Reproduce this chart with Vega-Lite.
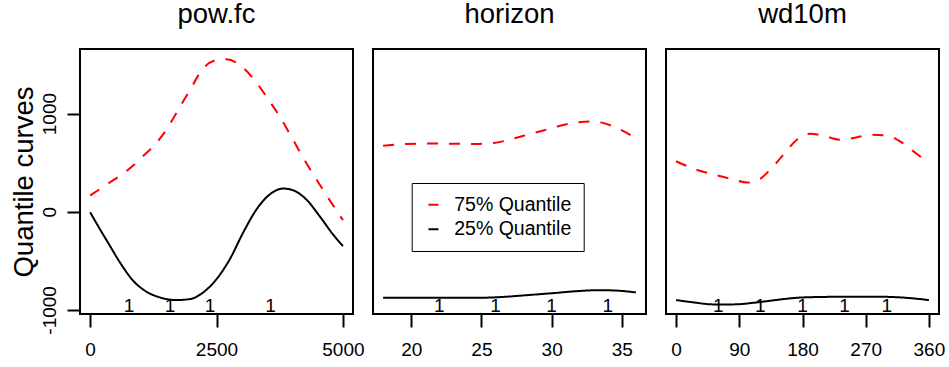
{
  "$schema": "https://vega.github.io/schema/vega-lite/v6.json",
  "autosize": {"type": "none"},
  "padding": {"left": 80, "top": 49, "right": 869, "bottom": 318},
  "background": "white",
  "spacing": 20,
  "bounds": "flush",
  "datasets": {
    "curves": [
      {"v": "pow.fc", "s": "75% Quantile", "x": 0, "y": 165},
      {"v": "pow.fc", "s": "75% Quantile", "x": 395, "y": 300},
      {"v": "pow.fc", "s": "75% Quantile", "x": 757, "y": 430},
      {"v": "pow.fc", "s": "75% Quantile", "x": 1053, "y": 570},
      {"v": "pow.fc", "s": "75% Quantile", "x": 1316, "y": 705},
      {"v": "pow.fc", "s": "75% Quantile", "x": 1514, "y": 840},
      {"v": "pow.fc", "s": "75% Quantile", "x": 1711, "y": 1010},
      {"v": "pow.fc", "s": "75% Quantile", "x": 1974, "y": 1240},
      {"v": "pow.fc", "s": "75% Quantile", "x": 2237, "y": 1460},
      {"v": "pow.fc", "s": "75% Quantile", "x": 2500, "y": 1545},
      {"v": "pow.fc", "s": "75% Quantile", "x": 2698, "y": 1553},
      {"v": "pow.fc", "s": "75% Quantile", "x": 2961, "y": 1495},
      {"v": "pow.fc", "s": "75% Quantile", "x": 3224, "y": 1360},
      {"v": "pow.fc", "s": "75% Quantile", "x": 3487, "y": 1173},
      {"v": "pow.fc", "s": "75% Quantile", "x": 3750, "y": 970},
      {"v": "pow.fc", "s": "75% Quantile", "x": 4013, "y": 734},
      {"v": "pow.fc", "s": "75% Quantile", "x": 4276, "y": 497},
      {"v": "pow.fc", "s": "75% Quantile", "x": 4540, "y": 277},
      {"v": "pow.fc", "s": "75% Quantile", "x": 4902, "y": -10},
      {"v": "pow.fc", "s": "75% Quantile", "x": 5000, "y": -85},
      {"v": "pow.fc", "s": "25% Quantile", "x": 0, "y": -5},
      {"v": "pow.fc", "s": "25% Quantile", "x": 197, "y": -180},
      {"v": "pow.fc", "s": "25% Quantile", "x": 395, "y": -350},
      {"v": "pow.fc", "s": "25% Quantile", "x": 592, "y": -518},
      {"v": "pow.fc", "s": "25% Quantile", "x": 855, "y": -705},
      {"v": "pow.fc", "s": "25% Quantile", "x": 1119, "y": -816},
      {"v": "pow.fc", "s": "25% Quantile", "x": 1382, "y": -873},
      {"v": "pow.fc", "s": "25% Quantile", "x": 1711, "y": -900},
      {"v": "pow.fc", "s": "25% Quantile", "x": 1974, "y": -890},
      {"v": "pow.fc", "s": "25% Quantile", "x": 2237, "y": -822},
      {"v": "pow.fc", "s": "25% Quantile", "x": 2500, "y": -687},
      {"v": "pow.fc", "s": "25% Quantile", "x": 2763, "y": -484},
      {"v": "pow.fc", "s": "25% Quantile", "x": 3027, "y": -213},
      {"v": "pow.fc", "s": "25% Quantile", "x": 3290, "y": 23},
      {"v": "pow.fc", "s": "25% Quantile", "x": 3553, "y": 176},
      {"v": "pow.fc", "s": "25% Quantile", "x": 3816, "y": 236},
      {"v": "pow.fc", "s": "25% Quantile", "x": 4013, "y": 219},
      {"v": "pow.fc", "s": "25% Quantile", "x": 4276, "y": 125},
      {"v": "pow.fc", "s": "25% Quantile", "x": 4540, "y": -45},
      {"v": "pow.fc", "s": "25% Quantile", "x": 4803, "y": -230},
      {"v": "pow.fc", "s": "25% Quantile", "x": 5000, "y": -349},
      {"v": "horizon", "s": "75% Quantile", "x": 18, "y": 673},
      {"v": "horizon", "s": "75% Quantile", "x": 19.69, "y": 690},
      {"v": "horizon", "s": "75% Quantile", "x": 21.35, "y": 696},
      {"v": "horizon", "s": "75% Quantile", "x": 23, "y": 693},
      {"v": "horizon", "s": "75% Quantile", "x": 24.44, "y": 690},
      {"v": "horizon", "s": "75% Quantile", "x": 25.86, "y": 700},
      {"v": "horizon", "s": "75% Quantile", "x": 26.82, "y": 727},
      {"v": "horizon", "s": "75% Quantile", "x": 28, "y": 774},
      {"v": "horizon", "s": "75% Quantile", "x": 29.42, "y": 828},
      {"v": "horizon", "s": "75% Quantile", "x": 30.61, "y": 876},
      {"v": "horizon", "s": "75% Quantile", "x": 31.8, "y": 909},
      {"v": "horizon", "s": "75% Quantile", "x": 32.75, "y": 920},
      {"v": "horizon", "s": "75% Quantile", "x": 33.7, "y": 903},
      {"v": "horizon", "s": "75% Quantile", "x": 34.65, "y": 852},
      {"v": "horizon", "s": "75% Quantile", "x": 35.83, "y": 761},
      {"v": "horizon", "s": "75% Quantile", "x": 36, "y": 745},
      {"v": "horizon", "s": "25% Quantile", "x": 18, "y": -877},
      {"v": "horizon", "s": "25% Quantile", "x": 21, "y": -877},
      {"v": "horizon", "s": "25% Quantile", "x": 24.7, "y": -877},
      {"v": "horizon", "s": "25% Quantile", "x": 26.3, "y": -870},
      {"v": "horizon", "s": "25% Quantile", "x": 28.24, "y": -850},
      {"v": "horizon", "s": "25% Quantile", "x": 30.14, "y": -829},
      {"v": "horizon", "s": "25% Quantile", "x": 31.8, "y": -809},
      {"v": "horizon", "s": "25% Quantile", "x": 33.46, "y": -799},
      {"v": "horizon", "s": "25% Quantile", "x": 34.89, "y": -806},
      {"v": "horizon", "s": "25% Quantile", "x": 36, "y": -822},
      {"v": "wd10m", "s": "75% Quantile", "x": 0, "y": 514},
      {"v": "wd10m", "s": "75% Quantile", "x": 24.7, "y": 439},
      {"v": "wd10m", "s": "75% Quantile", "x": 58, "y": 371},
      {"v": "wd10m", "s": "75% Quantile", "x": 82, "y": 328},
      {"v": "wd10m", "s": "75% Quantile", "x": 100.7, "y": 297},
      {"v": "wd10m", "s": "75% Quantile", "x": 119.7, "y": 335},
      {"v": "wd10m", "s": "75% Quantile", "x": 134, "y": 429},
      {"v": "wd10m", "s": "75% Quantile", "x": 152.8, "y": 581},
      {"v": "wd10m", "s": "75% Quantile", "x": 172, "y": 734},
      {"v": "wd10m", "s": "75% Quantile", "x": 191, "y": 795},
      {"v": "wd10m", "s": "75% Quantile", "x": 209.8, "y": 774},
      {"v": "wd10m", "s": "75% Quantile", "x": 233.6, "y": 734},
      {"v": "wd10m", "s": "75% Quantile", "x": 252.6, "y": 751},
      {"v": "wd10m", "s": "75% Quantile", "x": 276.4, "y": 784},
      {"v": "wd10m", "s": "75% Quantile", "x": 300, "y": 777},
      {"v": "wd10m", "s": "75% Quantile", "x": 319, "y": 717},
      {"v": "wd10m", "s": "75% Quantile", "x": 338, "y": 615},
      {"v": "wd10m", "s": "75% Quantile", "x": 353, "y": 537},
      {"v": "wd10m", "s": "75% Quantile", "x": 360, "y": 505},
      {"v": "wd10m", "s": "25% Quantile", "x": 0, "y": -900},
      {"v": "wd10m", "s": "25% Quantile", "x": 24.7, "y": -924},
      {"v": "wd10m", "s": "25% Quantile", "x": 53, "y": -944},
      {"v": "wd10m", "s": "25% Quantile", "x": 81.6, "y": -944},
      {"v": "wd10m", "s": "25% Quantile", "x": 115, "y": -924},
      {"v": "wd10m", "s": "25% Quantile", "x": 153, "y": -890},
      {"v": "wd10m", "s": "25% Quantile", "x": 181, "y": -873},
      {"v": "wd10m", "s": "25% Quantile", "x": 229, "y": -867},
      {"v": "wd10m", "s": "25% Quantile", "x": 295, "y": -867},
      {"v": "wd10m", "s": "25% Quantile", "x": 333, "y": -880},
      {"v": "wd10m", "s": "25% Quantile", "x": 360, "y": -900}
    ],
    "rug": [
      {"v": "pow.fc", "x": 770},
      {"v": "pow.fc", "x": 1580},
      {"v": "pow.fc", "x": 2370},
      {"v": "pow.fc", "x": 3570},
      {"v": "horizon", "x": 22},
      {"v": "horizon", "x": 26},
      {"v": "horizon", "x": 30},
      {"v": "horizon", "x": 34},
      {"v": "wd10m", "x": 60},
      {"v": "wd10m", "x": 120},
      {"v": "wd10m", "x": 180},
      {"v": "wd10m", "x": 240},
      {"v": "wd10m", "x": 300}
    ]
  },
  "hconcat": [
    {
      "title": "pow.fc",
      "width": 273,
      "height": 265,
      "layer": [
        {
          "data": {"name": "curves"},
          "transform": [{"filter": "datum.v === 'pow.fc'"}],
          "mark": {"type": "line", "strokeWidth": 2, "clip": true, "interpolate": "monotone"},
          "encoding": {
            "x": {"field": "x", "type": "quantitative", "scale": {"domain": [-200, 5200], "nice": false, "zero": false}, "axis": {"values": [0, 2500, 5000], "title": null}},
            "y": {"field": "y", "type": "quantitative", "scale": {"domain": [-1042, 1658], "nice": false, "zero": false},
                  "axis": {"values": [-1000, 0, 1000], "title": "Quantile curves", "titleAngle": 270, "titleX": -48, "titleY": 132.5, "titleAlign": "center", "titleBaseline": "alphabetic", "labelAngle": 270, "labelAlign": "center", "labelBaseline": "alphabetic", "labelPadding": 12}},
            "color": {"field": "s", "type": "nominal", "scale": {"domain": ["75% Quantile", "25% Quantile"], "range": ["red", "black"]}, "legend": {"title": null}},
            "strokeDash": {"field": "s", "type": "nominal", "scale": {"domain": ["75% Quantile", "25% Quantile"], "range": [[11, 11], [1, 0]]}, "legend": {"title": null}}
          }
        },
        {
          "data": {"name": "rug"},
          "transform": [{"filter": "datum.v === 'pow.fc'"}],
          "mark": {"type": "text", "text": "1", "font": "Liberation Sans", "fontSize": 19, "color": "black", "baseline": "alphabetic"},
          "encoding": {
            "x": {"field": "x", "type": "quantitative"},
            "y": {"datum": -1024}
          }
        }
      ]
    },
    {
      "title": "horizon",
      "width": 273,
      "height": 265,
      "layer": [
        {
          "data": {"name": "curves"},
          "transform": [{"filter": "datum.v === 'horizon'"}],
          "mark": {"type": "line", "strokeWidth": 2, "clip": true, "interpolate": "monotone"},
          "encoding": {
            "x": {"field": "x", "type": "quantitative", "scale": {"domain": [17.28, 36.72], "nice": false, "zero": false}, "axis": {"values": [20, 25, 30, 35], "title": null}},
            "y": {"field": "y", "type": "quantitative", "scale": {"domain": [-1042, 1658], "nice": false, "zero": false}, "axis": null},
            "color": {"field": "s", "type": "nominal", "scale": {"domain": ["75% Quantile", "25% Quantile"], "range": ["red", "black"]}, "legend": {"title": null}},
            "strokeDash": {"field": "s", "type": "nominal", "scale": {"domain": ["75% Quantile", "25% Quantile"], "range": [[11, 11], [1, 0]]}, "legend": {"title": null}}
          }
        },
        {
          "data": {"name": "rug"},
          "transform": [{"filter": "datum.v === 'horizon'"}],
          "mark": {"type": "text", "text": "1", "font": "Liberation Sans", "fontSize": 19, "color": "black", "baseline": "alphabetic"},
          "encoding": {
            "x": {"field": "x", "type": "quantitative"},
            "y": {"datum": -1024}
          }
        }
      ]
    },
    {
      "title": "wd10m",
      "width": 273,
      "height": 265,
      "layer": [
        {
          "data": {"name": "curves"},
          "transform": [{"filter": "datum.v === 'wd10m'"}],
          "mark": {"type": "line", "strokeWidth": 2, "clip": true, "interpolate": "monotone"},
          "encoding": {
            "x": {"field": "x", "type": "quantitative", "scale": {"domain": [-14.4, 374.4], "nice": false, "zero": false}, "axis": {"values": [0, 90, 180, 270, 360], "title": null}},
            "y": {"field": "y", "type": "quantitative", "scale": {"domain": [-1042, 1658], "nice": false, "zero": false}, "axis": null},
            "color": {"field": "s", "type": "nominal", "scale": {"domain": ["75% Quantile", "25% Quantile"], "range": ["red", "black"]}, "legend": {"title": null}},
            "strokeDash": {"field": "s", "type": "nominal", "scale": {"domain": ["75% Quantile", "25% Quantile"], "range": [[11, 11], [1, 0]]}, "legend": {"title": null}}
          }
        },
        {
          "data": {"name": "rug"},
          "transform": [{"filter": "datum.v === 'wd10m'"}],
          "mark": {"type": "text", "text": "1", "font": "Liberation Sans", "fontSize": 19, "color": "black", "baseline": "alphabetic"},
          "encoding": {
            "x": {"field": "x", "type": "quantitative"},
            "y": {"datum": -1024}
          }
        }
      ]
    }
  ],
  "config": {
    "font": "Liberation Sans",
    "view": {"stroke": "black", "strokeWidth": 2},
    "title": {"font": "Liberation Sans", "fontSize": 27.5, "fontWeight": "normal", "color": "black", "anchor": "middle", "frame": "group", "baseline": "alphabetic", "offset": 21},
    "axis": {
      "grid": false,
      "domain": false,
      "ticks": true,
      "tickColor": "black",
      "tickWidth": 2,
      "tickSize": 13,
      "labelFont": "Liberation Sans",
      "labelFontSize": 19,
      "labelColor": "black",
      "labelExpr": "'' + datum.value",
      "titleFont": "Liberation Sans",
      "titleFontSize": 27.5,
      "titleFontWeight": "normal",
      "titleColor": "black",
      "labelOverlap": false,
      "labelFlush": false
    },
    "axisX": {"labelBaseline": "alphabetic", "labelPadding": 28},
    "legend": {
      "orient": "none",
      "legendX": 331.7,
      "legendY": 134,
      "strokeColor": "black",
      "padding": 12,
      "labelFont": "Liberation Sans",
      "labelFontSize": 19.5,
      "labelColor": "black",
      "labelOffset": 11,
      "labelLimit": 0,
      "rowPadding": 3.5,
      "symbolSize": 100,
      "symbolStrokeWidth": 2,
      "symbolType": "stroke"
    }
  }
}
